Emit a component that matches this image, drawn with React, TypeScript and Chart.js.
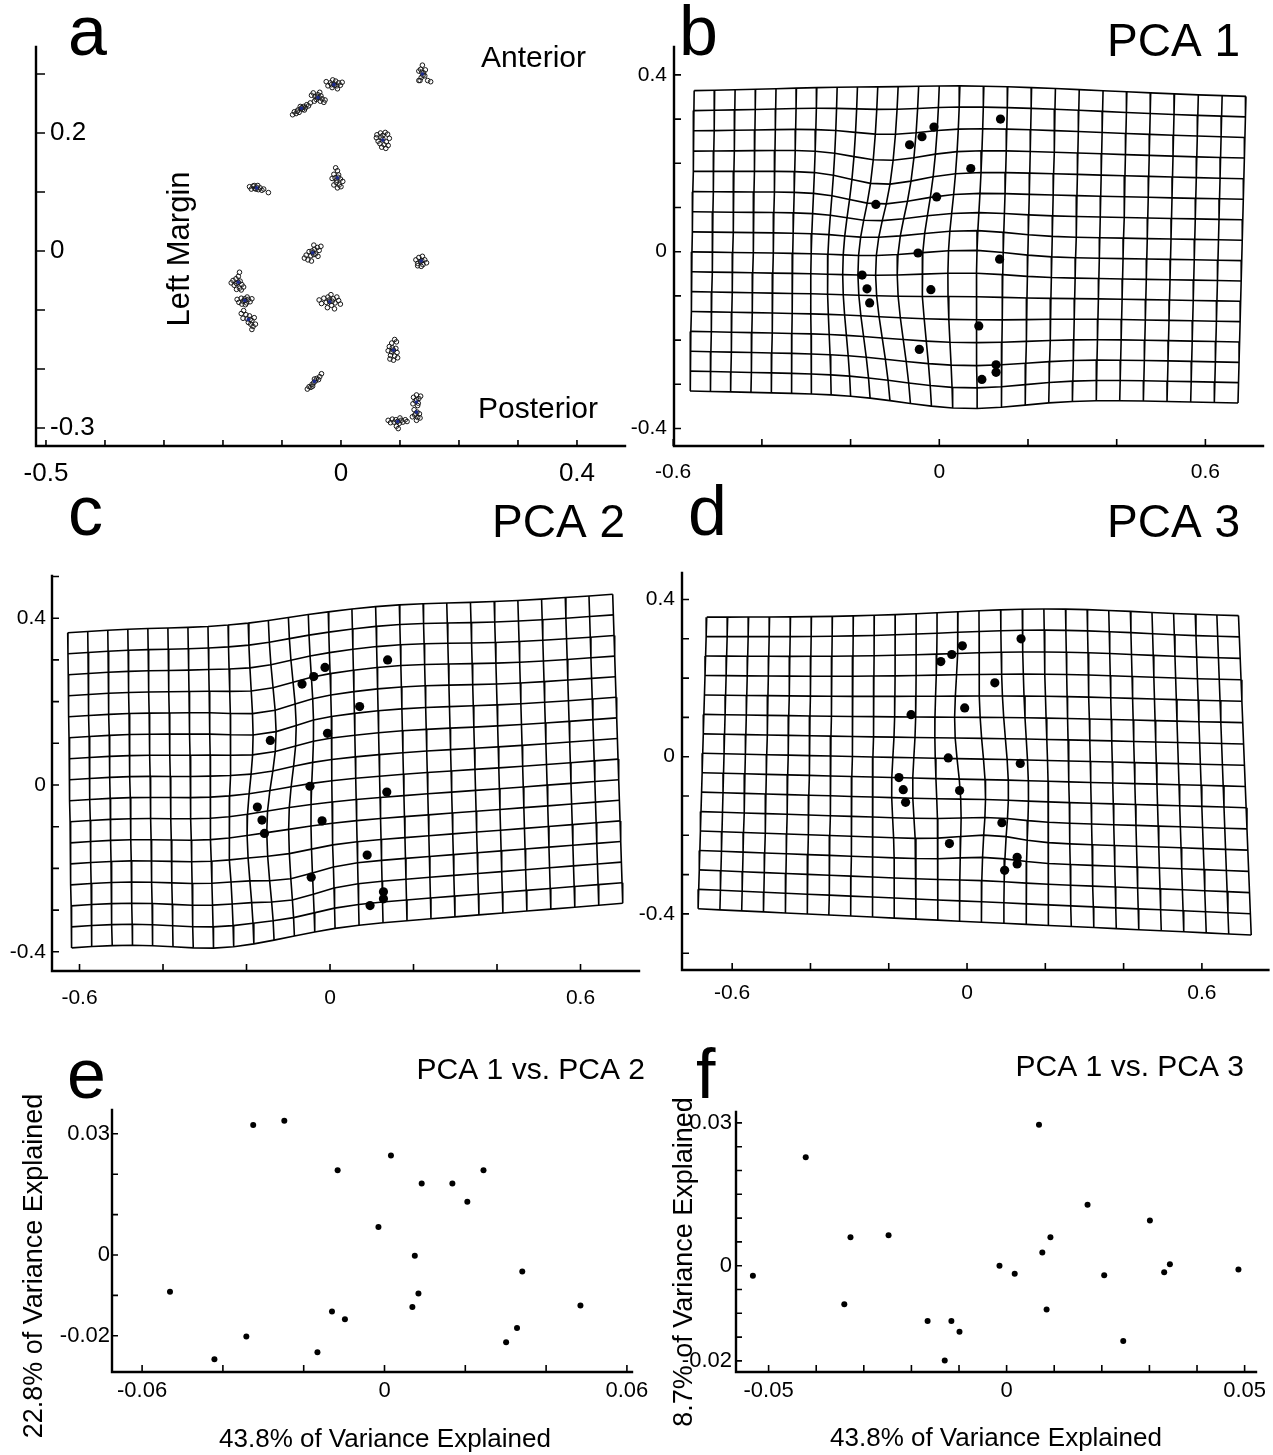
import React, { useEffect, useRef } from "react";
import { Chart, registerables } from "chart.js";
Chart.register(...registerables);

const W = 1273;
const H = 1455;
const FONT = '"Liberation Sans", Arial, Helvetica, sans-serif';

// ---------- consensus landmarks (18) ----------
const LANDMARK_X = [-0.067, -0.039, -0.012, 0.138, 0.071, -0.006, -0.143, -0.048, 0.136, -0.174, -0.163, -0.157, -0.019, 0.089, -0.045, 0.128, 0.128, 0.096];
const LANDMARK_Y = [0.242, 0.260, 0.282, 0.300, 0.188, 0.124, 0.107, -0.003, -0.017, -0.053, -0.084, -0.116, -0.086, -0.168, -0.221, -0.256, -0.273, -0.289];

// specimen scatter around each landmark (thousandths of a unit)
const LANDMARK_SPREAD: number[][][] = [
  [[-15, -11], [-12, -6], [-9, -9], [-6, -3], [-4, -7], [0, 0], [2, -2], [4, 3], [7, 1], [9, 6], [12, 4], [15, 9], [-2, 3], [5, -3], [-7, -5], [1, 1]],
  [[-11, 4], [-8, 8], [-5, 2], [-3, -3], [0, 5], [2, 0], [4, -6], [7, -2], [10, -8], [-6, -6], [3, 9], [12, -4], [-1, 1], [5, 3]],
  [[-13, 5], [-10, -2], [-6, 3], [-3, -5], [0, 1], [3, 6], [5, -2], [8, 3], [11, -1], [14, 4], [-2, 8], [6, -7], [1, -1], [-4, 0]],
  [[-6, 5], [-3, 8], [0, 15], [2, 2], [4, -3], [-2, -6], [-6, -11], [-4, -11], [5, 7], [9, -11], [14, -13], [1, -2], [-1, 3]],
  [[-11, 4], [-8, -2], [-10, 9], [-4, 12], [0, 8], [4, 13], [8, 10], [11, 3], [6, -3], [2, -8], [-2, -12], [5, -14], [-5, -6], [9, -9], [0, 2], [-3, 5]],
  [[-3, 17], [0, 12], [-6, 6], [2, 5], [-9, -1], [-4, 0], [5, -2], [9, -6], [-2, -8], [3, -12], [0, -17], [6, -15], [-6, -12], [1, 1], [-1, -4]],
  [[-12, 2], [-9, -2], [-6, 3], [-3, -1], [0, 1], [3, -3], [6, 0], [9, -4], [12, -2], [-4, 4], [2, 4], [20, -8], [-1, -2]],
  [[-14, -9], [-11, -4], [-8, -12], [-6, 2], [-3, -5], [0, 0], [3, 6], [5, -2], [8, 9], [11, 4], [14, 11], [2, 13], [-2, -14], [9, -6], [-1, 3], [2, -3]],
  [[-9, 2], [-6, -4], [-4, 6], [-1, -1], [2, 8], [3, -6], [6, 2], [9, -3], [0, -9], [-6, -8], [1, 1]],
  [[2, 17], [0, 10], [-4, 6], [-9, 3], [-12, -1], [-7, -5], [-3, -2], [3, 2], [6, -4], [9, -8], [2, -10], [-3, -12], [5, -13], [0, 0]],
  [[-13, 2], [-10, -3], [-6, 4], [-3, -1], [0, 3], [3, -4], [6, 2], [9, -2], [12, 3], [-5, -6], [4, 6], [1, -7], [0, 0]],
  [[-12, 10], [-8, 15], [-4, 8], [-9, 2], [-2, 1], [2, 6], [6, -2], [10, 3], [4, -8], [8, -12], [12, -8], [6, -17], [0, -5], [3, 0]],
  [[-18, 3], [-14, -3], [-10, 6], [-6, -1], [-3, 8], [0, 0], [3, -6], [6, 5], [9, -2], [12, 8], [15, 2], [18, -4], [-4, -10], [8, -12], [2, 12], [-1, 3], [4, 1]],
  [[2, 18], [5, 14], [-3, 12], [-7, 6], [-2, 4], [4, 3], [-9, -1], [-3, -3], [6, -4], [-5, -9], [2, -10], [7, -13], [0, -17], [-6, -15], [0, 0]],
  [[-12, -13], [-9, -9], [-6, -10], [-4, -5], [-1, -2], [2, 1], [4, 5], [7, 3], [9, 8], [12, 13], [0, 4], [-3, -8]],
  [[-5, 8], [0, 12], [4, 6], [-2, 2], [3, -2], [-6, -3], [7, 10], [2, -6], [0, 4]],
  [[-4, 4], [1, 0], [5, -3], [-3, -5], [2, -9], [-7, -8], [6, -10], [0, -14], [-1, -3]],
  [[-16, 2], [-12, -2], [-9, 4], [-6, -1], [-3, 3], [0, 0], [3, -3], [6, 2], [9, -1], [13, 3], [16, 0], [-2, -8], [1, -12], [4, 6]],
];

// ---------- deformation grids (TL, TR, BL, BR corners; column-13 fraction; local warps) ----------
const GRID_COLS = 25;
const GRID_ROWS = 15;
const GRID_MID_COL = 13;

const PCA1_CORNER_X = [-0.5527, 0.6915, -0.5621, 0.6735];
const PCA1_CORNER_Y = [0.359, 0.3477, -0.3152, -0.3423];
const PCA1_MID_FRACTION = 0.482;
const PCA1_WARPS = [
  [-0.09, -0.04, 0.1, 0.15, -0.045, 0],
  [0.03, 0.37, 0.35, 0.15, 0, 0.022],
  [-0.11, 0.17, 0.08, 0.08, 0, -0.03],
  [0.06, -0.32, 0.13, 0.11, 0, -0.026],
  [0.08, 0.0, 0.08, 0.06, 0, 0.014],
];

const PCA2_CORNER_X = [-0.6283, 0.6771, -0.6187, 0.7011];
const PCA2_CORNER_Y = [0.3652, 0.4573, -0.3902, -0.2837];
const PCA2_MID_FRACTION = 0.478;
const PCA2_WARPS = [
  [-0.27, -0.05, 0.12, 0.4, 0, -0.016],
  [-0.23, -0.39, 0.13, 0.15, 0, -0.018],
  [0.15, 0.3, 0.15, 0.15, 0, 0.015],
  [-0.09, -0.22, 0.06, 0.06, 0, -0.02],
  [-0.17, 0.17, 0.06, 0.1, 0, -0.016],
  [-0.12, 0.15, 0.06, 0.1, 0.016, 0],
  [-0.15, -0.1, 0.07, 0.1, -0.014, 0],
];

const PCA3_CORNER_X = [-0.665, 0.6935, -0.687, 0.726];
const PCA3_CORNER_Y = [0.355, 0.3562, -0.387, -0.4537];
const PCA3_MID_FRACTION = 0.512;
const PCA3_WARPS = [
  [0.2, 0.36, 0.25, 0.15, 0, 0.02],
  [0.07, -0.08, 0.08, 0.12, 0.016, 0],
  [-0.03, 0.06, 0.04, 0.1, -0.014, 0],
  [0.05, -0.22, 0.07, 0.05, 0, 0.015],
  [-0.15, -0.08, 0.05, 0.08, -0.01, 0],
];

// ---------- PC score scatters ----------
const E_PC1 = [-0.0325, -0.0248, 0.0016, -0.0116, 0.0245, 0.0092, 0.0168, 0.0205, -0.0015, 0.0075, 0.0341, -0.0531, 0.0084, 0.0069, 0.0485, -0.013, -0.0098, 0.0328, -0.0342, 0.0301, -0.0166, -0.0421];
const E_PC2 = [0.0322, 0.0332, 0.0246, 0.021, 0.021, 0.0177, 0.0177, 0.0132, 0.0069, -0.0002, -0.0041, -0.0091, -0.0095, -0.0129, -0.0125, -0.014, -0.0159, -0.0181, -0.0202, -0.0216, -0.0241, -0.0258];
const F_PC1 = [-0.0533, -0.0422, -0.0328, -0.0341, -0.0248, -0.0166, -0.0116, -0.0099, -0.013, -0.0015, 0.0017, 0.0068, 0.0075, 0.0092, 0.0084, 0.017, 0.0205, 0.0245, 0.0301, 0.0331, 0.0343, 0.0487];
const F_PC3 = [-0.0021, 0.0228, 0.006, -0.0081, 0.0064, -0.0116, -0.0116, -0.0139, -0.0199, 0.0, -0.0017, 0.0296, 0.0028, 0.006, -0.0092, 0.0128, -0.002, -0.0158, 0.0095, -0.0014, 0.0003, -0.0008];

// ---------- ticks ----------
const A_X_TICKS = [-0.5, -0.4, -0.3, -0.2, -0.1, 0, 0.1, 0.2, 0.3, 0.4];
const A_X_LABELS = [-0.5, 0, 0.4];
const A_Y_TICKS = [-0.3, -0.2, -0.1, 0, 0.1, 0.2, 0.3];
const A_Y_LABELS = [-0.3, 0, 0.2];
const GRID_X_TICKS = [-0.6, -0.4, -0.2, 0, 0.2, 0.4, 0.6];
const GRID_X_LABELS = [-0.6, 0, 0.6];
const B_Y_TICKS = [-0.4, -0.3, -0.2, -0.1, 0, 0.1, 0.2, 0.3, 0.4];
const C_Y_TICKS = [-0.4, -0.3, -0.2, -0.1, 0, 0.1, 0.2, 0.3, 0.4, 0.5];
const D_Y_TICKS = [-0.5, -0.4, -0.3, -0.2, -0.1, 0, 0.1, 0.2, 0.3, 0.4];
const GRID_Y_LABELS = [-0.4, 0, 0.4];
const E_X_TICKS = [-0.06, -0.04, -0.02, 0, 0.02, 0.04, 0.06];
const E_X_LABELS = [-0.06, 0, 0.06];
const E_Y_TICKS = [-0.02, -0.01, 0, 0.01, 0.02, 0.03];
const E_Y_LABELS = [-0.02, 0, 0.03];
const F_X_TICKS = [-0.05, -0.04, -0.03, -0.02, -0.01, 0, 0.01, 0.02, 0.03, 0.04, 0.05];
const F_X_LABELS = [-0.05, 0, 0.05];
const F_Y_TICKS = [-0.02, -0.015, -0.01, -0.005, 0, 0.005, 0.01, 0.015, 0.02, 0.025, 0.03];
const F_Y_LABELS = [-0.02, 0, 0.03];

// ---------- helpers ----------
type TextItem = { t: string; x: number; y: number; size: number; align?: CanvasTextAlign; base?: CanvasTextBaseline; rot?: boolean };
type Panel = {
  key: string;
  rect: [number, number, number, number]; // left, top, right, bottom (px)
  xr: [number, number];
  yr: [number, number];
  xTicks: number[];
  yTicks: number[];
  xLabels: number[];
  yLabels: number[];
  tickLenX: number;
  tickLenY: number;
  tickFont: number;
  yInside: boolean;
  yGap: number;
  xLabelDy: number;
  texts: TextItem[];
  datasets: any[];
};

function warpGrid(cx: number[], cy: number[], mid: number, warps: number[][]) {
  const nodes: { x: number; y: number }[][] = [];
  for (let j = 0; j <= GRID_ROWS; j++) {
    const v = j / GRID_ROWS;
    const row: { x: number; y: number }[] = [];
    for (let i = 0; i <= GRID_COLS; i++) {
      const u = i <= GRID_MID_COL ? (i / GRID_MID_COL) * mid : mid + ((i - GRID_MID_COL) / (GRID_COLS - GRID_MID_COL)) * (1 - mid);
      const x0 = (1 - u) * (1 - v) * cx[0] + u * (1 - v) * cx[1] + (1 - u) * v * cx[2] + u * v * cx[3];
      const y0 = (1 - u) * (1 - v) * cy[0] + u * (1 - v) * cy[1] + (1 - u) * v * cy[2] + u * v * cy[3];
      let x = x0;
      let y = y0;
      for (const [wx, wy, sx, sy, dx, dy] of warps) {
        const g = Math.exp(-(((x0 - wx) ** 2) / (2 * sx * sx) + ((y0 - wy) ** 2) / (2 * sy * sy)));
        x += dx * g;
        y += dy * g;
      }
      row.push({ x, y });
    }
    nodes.push(row);
  }
  return nodes;
}

function lineDs(pts: { x: number; y: number }[]) {
  return { data: pts, showLine: true, pointRadius: 0, borderColor: "#000", borderWidth: 1.6, tension: 0, fill: false };
}

function landmarkDots() {
  return {
    data: LANDMARK_X.map((x, k) => ({ x, y: LANDMARK_Y[k] })),
    showLine: false,
    pointRadius: 4.6,
    backgroundColor: "#000",
    borderWidth: 0,
  };
}

function gridDatasets(cx: number[], cy: number[], mid: number, warps: number[][]) {
  const nodes = warpGrid(cx, cy, mid, warps);
  const ds: any[] = [landmarkDots()];
  for (let j = 0; j <= GRID_ROWS; j++) ds.push(lineDs(nodes[j]));
  for (let i = 0; i <= GRID_COLS; i++) ds.push(lineDs(nodes.map((r) => r[i])));
  return ds;
}

function scoreDs(xs: number[], ys: number[]) {
  return [{ data: xs.map((x, k) => ({ x, y: ys[k] })), showLine: false, pointRadius: 3, backgroundColor: "#000", borderWidth: 0 }];
}

function clusterDs() {
  const pts: { x: number; y: number }[] = [];
  LANDMARK_SPREAD.forEach((list, k) => {
    list.forEach(([dx, dy]) => pts.push({ x: LANDMARK_X[k] + dx / 1000, y: LANDMARK_Y[k] + dy / 1000 }));
  });
  return [
    { data: LANDMARK_X.map((x, k) => ({ x, y: LANDMARK_Y[k] })), showLine: false, pointRadius: 1.8, backgroundColor: "#1c2a8c", borderWidth: 0 },
    { data: pts, showLine: false, pointRadius: 2.3, backgroundColor: "rgba(255,255,255,0.1)", borderColor: "#151515", borderWidth: 1 },
  ];
}

const fmt = (v: number) => (v === 0 ? "0" : String(v));

function decor(p: Panel) {
  return {
    id: "decor_" + p.key,
    afterDraw(chart: any) {
      const ctx: CanvasRenderingContext2D = chart.ctx;
      const xs = chart.scales.x;
      const ys = chart.scales.y;
      const { left, right, top, bottom } = chart.chartArea;
      ctx.save();
      ctx.strokeStyle = "#000";
      ctx.fillStyle = "#000";
      ctx.lineWidth = 2.4;
      ctx.lineCap = "square";
      ctx.beginPath();
      ctx.moveTo(left, top);
      ctx.lineTo(left, bottom);
      ctx.lineTo(right, bottom);
      ctx.stroke();
      ctx.lineCap = "butt";
      ctx.lineWidth = 1.6;
      ctx.beginPath();
      for (const v of p.xTicks) {
        const px = xs.getPixelForValue(v);
        ctx.moveTo(px, bottom);
        ctx.lineTo(px, bottom - p.tickLenX);
      }
      for (const v of p.yTicks) {
        const py = ys.getPixelForValue(v);
        ctx.moveTo(left, py);
        ctx.lineTo(left + p.tickLenY, py);
      }
      ctx.stroke();
      ctx.font = `${p.tickFont}px ${FONT}`;
      ctx.textAlign = "center";
      ctx.textBaseline = "middle";
      for (const v of p.xLabels) ctx.fillText(fmt(v), xs.getPixelForValue(v), bottom + p.xLabelDy);
      ctx.textAlign = p.yInside ? "left" : "right";
      for (const v of p.yLabels) ctx.fillText(fmt(v), p.yInside ? left + p.yGap : left - p.yGap, ys.getPixelForValue(v));
      for (const t of p.texts) {
        ctx.save();
        ctx.font = `${t.size}px ${FONT}`;
        ctx.textAlign = t.align || "left";
        ctx.textBaseline = t.base || "alphabetic";
        ctx.translate(t.x, t.y);
        if (t.rot) ctx.rotate(-Math.PI / 2);
        ctx.fillText(t.t, 0, 0);
        ctx.restore();
      }
      ctx.restore();
    },
  };
}

function buildConfig(p: Panel) {
  const [l, t, r, b] = p.rect;
  return {
    type: "scatter" as const,
    data: { datasets: p.datasets },
    options: {
      animation: false as const,
      responsive: false,
      maintainAspectRatio: false,
      events: [],
      layout: { padding: { left: l, top: t, right: W - r, bottom: H - b } },
      scales: {
        x: { type: "linear" as const, min: p.xr[0], max: p.xr[1], display: false },
        y: { type: "linear" as const, min: p.yr[0], max: p.yr[1], display: false },
      },
      plugins: { legend: { display: false }, tooltip: { enabled: false }, title: { display: false } },
    },
    plugins: [decor(p)],
  };
}

const LETTER = 70;

const PANELS: Panel[] = [
  {
    key: "a",
    rect: [36, 47, 625, 446],
    xr: [-0.5169, 0.4814],
    yr: [-0.3305, 0.3458],
    xTicks: A_X_TICKS,
    yTicks: A_Y_TICKS,
    xLabels: A_X_LABELS,
    yLabels: A_Y_LABELS,
    tickLenX: 6,
    tickLenY: 9,
    tickFont: 26,
    yInside: true,
    yGap: 14,
    xLabelDy: 28,
    texts: [
      { t: "a", x: 68, y: 55, size: LETTER },
      { t: "Anterior", x: 481, y: 67, size: 30 },
      { t: "Posterior", x: 478, y: 418, size: 30 },
      { t: "Left Margin", x: 180, y: 249, size: 31, align: "center", base: "middle", rot: true },
    ],
    datasets: clusterDs(),
  },
  {
    key: "b",
    rect: [674, 47, 1263, 446],
    xr: [-0.5982, 0.7299],
    yr: [-0.4396, 0.4631],
    xTicks: GRID_X_TICKS,
    yTicks: B_Y_TICKS,
    xLabels: GRID_X_LABELS,
    yLabels: GRID_Y_LABELS,
    tickLenX: 7,
    tickLenY: 7,
    tickFont: 21,
    yInside: false,
    yGap: 7,
    xLabelDy: 26,
    texts: [
      { t: "b", x: 679, y: 55, size: LETTER },
      { t: "PCA 1", x: 1240, y: 56, size: 46, align: "right" },
    ],
    datasets: gridDatasets(PCA1_CORNER_X, PCA1_CORNER_Y, PCA1_MID_FRACTION, PCA1_WARPS),
  },
  {
    key: "c",
    rect: [52, 576, 639, 971],
    xr: [-0.6659, 0.7401],
    yr: [-0.446, 0.5012],
    xTicks: GRID_X_TICKS,
    yTicks: C_Y_TICKS,
    xLabels: GRID_X_LABELS,
    yLabels: GRID_Y_LABELS,
    tickLenX: 7,
    tickLenY: 7,
    tickFont: 21,
    yInside: false,
    yGap: 6,
    xLabelDy: 27,
    texts: [
      { t: "c", x: 68, y: 535, size: LETTER },
      { t: "PCA 2", x: 625, y: 537, size: 46, align: "right" },
    ],
    datasets: gridDatasets(PCA2_CORNER_X, PCA2_CORNER_Y, PCA2_MID_FRACTION, PCA2_WARPS),
  },
  {
    key: "d",
    rect: [682, 573, 1270, 970],
    xr: [-0.7282, 0.7699],
    yr: [-0.5427, 0.4674],
    xTicks: GRID_X_TICKS,
    yTicks: D_Y_TICKS,
    xLabels: GRID_X_LABELS,
    yLabels: GRID_Y_LABELS,
    tickLenX: 7,
    tickLenY: 7,
    tickFont: 21,
    yInside: false,
    yGap: 7,
    xLabelDy: 23,
    texts: [
      { t: "d", x: 688, y: 535, size: LETTER },
      { t: "PCA 3", x: 1240, y: 537, size: 46, align: "right" },
    ],
    datasets: gridDatasets(PCA3_CORNER_X, PCA3_CORNER_Y, PCA3_MID_FRACTION, PCA3_WARPS),
  },
  {
    key: "e",
    rect: [112, 1110, 632, 1372],
    xr: [-0.06745, 0.06126],
    yr: [-0.02896, 0.03589],
    xTicks: E_X_TICKS,
    yTicks: E_Y_TICKS,
    xLabels: E_X_LABELS,
    yLabels: E_Y_LABELS,
    tickLenX: 7,
    tickLenY: 6,
    tickFont: 22,
    yInside: false,
    yGap: 2,
    xLabelDy: 19,
    texts: [
      { t: "e", x: 67, y: 1098, size: LETTER },
      { t: "PCA 1 vs. PCA 2", x: 645, y: 1079, size: 30, align: "right" },
      { t: "43.8% of Variance Explained", x: 385, y: 1440, size: 26, align: "center", base: "middle" },
      { t: "22.8% of Variance Explained", x: 35, y: 1266, size: 27, align: "center", base: "middle", rot: true },
    ],
    datasets: scoreDs(E_PC1, E_PC2),
  },
  {
    key: "f",
    rect: [736, 1112, 1256, 1372],
    xr: [-0.05685, 0.05239],
    yr: [-0.02233, 0.03229],
    xTicks: F_X_TICKS,
    yTicks: F_Y_TICKS,
    xLabels: F_X_LABELS,
    yLabels: F_Y_LABELS,
    tickLenX: 7,
    tickLenY: 6,
    tickFont: 22,
    yInside: false,
    yGap: 4,
    xLabelDy: 19,
    texts: [
      { t: "f", x: 696, y: 1098, size: LETTER },
      { t: "PCA 1 vs. PCA 3", x: 1244, y: 1076, size: 30, align: "right" },
      { t: "43.8% of Variance Explained", x: 996, y: 1439, size: 26, align: "center", base: "middle" },
      { t: "8.7% of Variance Explained", x: 685, y: 1262, size: 27, align: "center", base: "middle", rot: true },
    ],
    datasets: scoreDs(F_PC1, F_PC3),
  },
];

function PanelCanvas({ panel }: { panel: Panel }) {
  const ref = useRef<HTMLCanvasElement>(null);
  useEffect(() => {
    if (!ref.current) return;
    const chart = new Chart(ref.current, buildConfig(panel) as any);
    return () => chart.destroy();
  }, [panel]);
  return (
    <canvas
      ref={ref}
      width={W}
      height={H}
      style={{ position: "absolute", left: 0, top: 0, width: W, height: H }}
    />
  );
}

export default function App() {
  return (
    <div style={{ position: "absolute", left: 0, top: 0, width: W, height: H, background: "#fff", overflow: "hidden" }}>
      {PANELS.map((p) => (
        <PanelCanvas key={p.key} panel={p} />
      ))}
    </div>
  );
}
